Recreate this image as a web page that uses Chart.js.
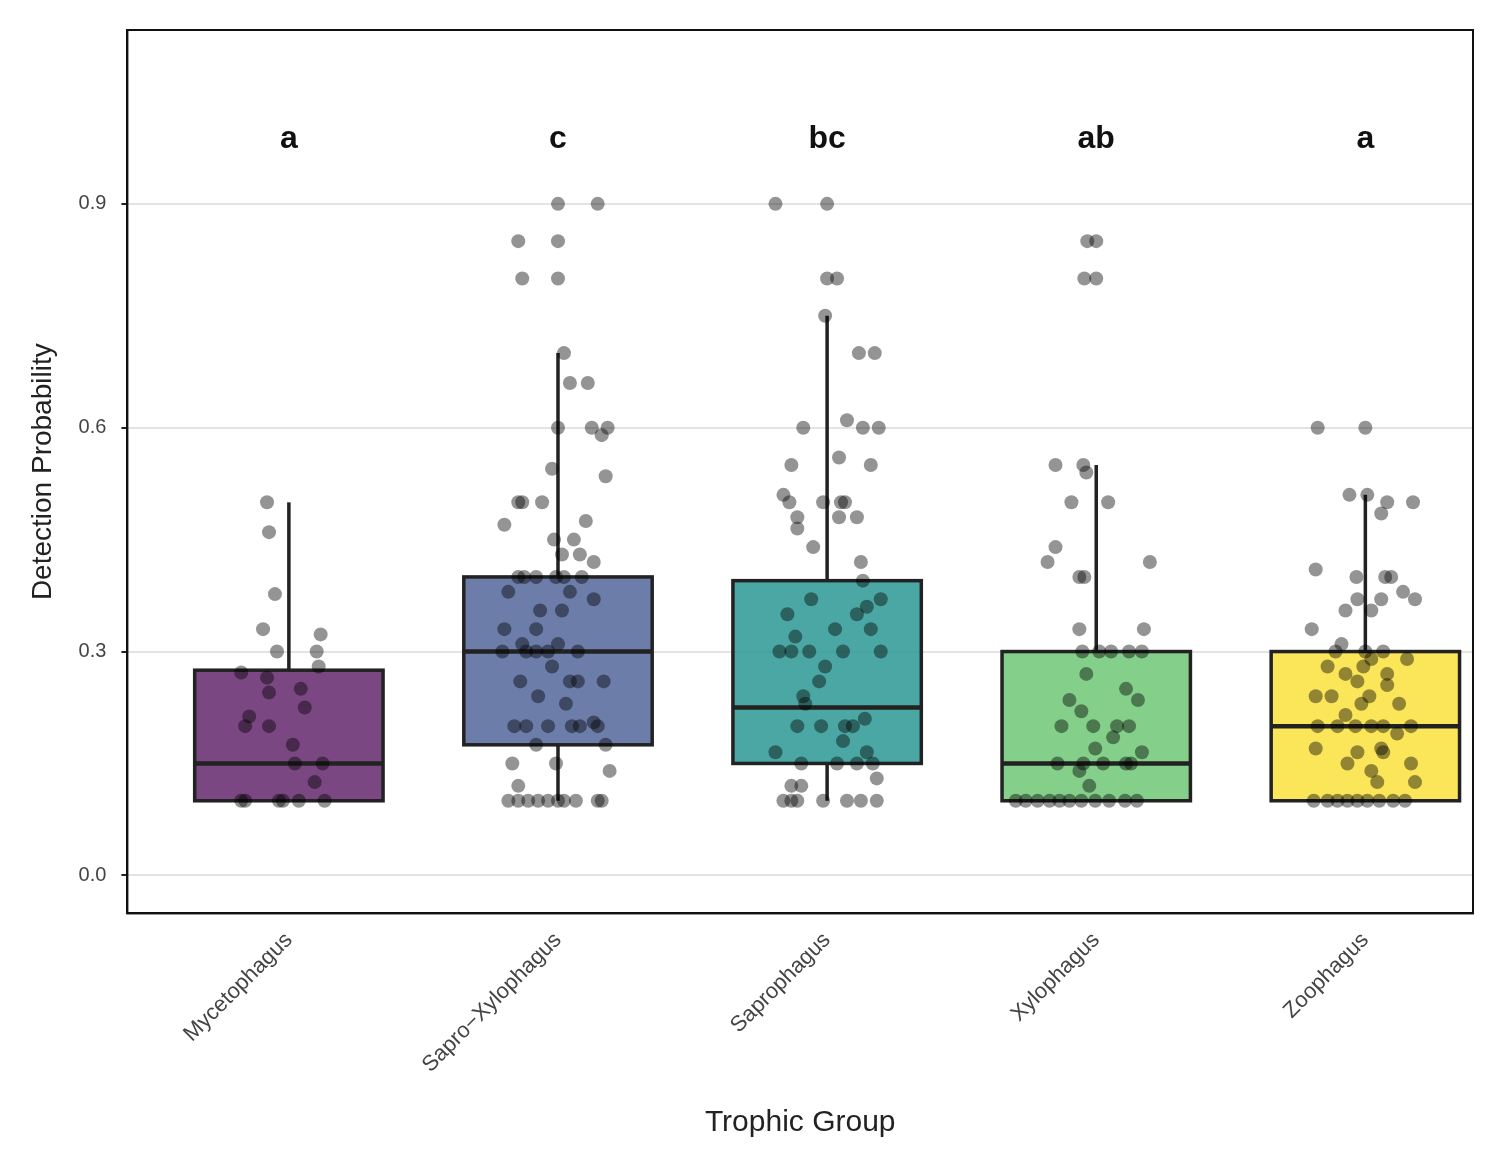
<!DOCTYPE html>
<html>
<head>
<meta charset="utf-8">
<script src="https://cdn.jsdelivr.net/npm/chart.js@4"></script>
<style>
  html, body { margin: 0; padding: 0; background: #fff; }
  #wrap { width: 1500px; height: 1165px; }
</style>
</head>
<body>
<div id="wrap"><canvas id="c"></canvas></div>
<script>
'use strict';
var groups = ['Mycetophagus', 'Sapro\u2212Xylophagus', 'Saprophagus', 'Xylophagus', 'Zoophagus'];
var letters = ['a', 'c', 'bc', 'ab', 'a'];
var boxColors = ['rgba(104,46,113,0.88)', 'rgba(82,102,154,0.85)', 'rgba(44,152,148,0.85)', 'rgba(110,200,118,0.85)', 'rgba(250,225,60,0.85)'];
var q1 = [0.10, 0.175, 0.15, 0.10, 0.10];
var medians = [0.15, 0.30, 0.225, 0.15, 0.20];
var q3 = [0.275, 0.40, 0.395, 0.30, 0.30];
var whiskLow = [0.10, 0.10, 0.10, 0.10, 0.10];
var whiskHigh = [0.50, 0.70, 0.75, 0.55, 0.51];
var yTicks = [0, 0.3, 0.6, 0.9];

// jittered points: [horizontal offset from group centre in 1/271 of a category, value]
var pts0 = [[-22,0.5],[-20,0.46],[-14,0.377],[-26,0.33],[32,0.323],[-12,0.30],[28,0.30],[-48,0.272],[-22,0.265],[12,0.25],[-20,0.245],[16,0.225],[-40,0.213],[-44,0.2],[-20,0.2],[4,0.175],[6,0.15],[34,0.15],[26,0.125],[-48,0.1],[-44,0.1],[-10,0.1],[-6,0.1],[10,0.1],[36,0.1],[30,0.28]];
var pts1 = [[0,0.9],[40,0.9],[-40,0.85],[0,0.85],[-36,0.8],[0,0.8],[6,0.7],[12,0.66],[30,0.66],[0,0.6],[34,0.6],[50,0.6],[44,0.59],[-6,0.545],[48,0.535],[-40,0.5],[-16,0.5],[-36,0.5],[-54,0.47],[28,0.475],[-4,0.45],[16,0.45],[4,0.43],[22,0.43],[36,0.42],[-40,0.4],[-34,0.4],[-22,0.4],[-2,0.4],[6,0.4],[24,0.4],[-50,0.38],[12,0.38],[36,0.37],[-18,0.355],[4,0.355],[-54,0.33],[-22,0.33],[0,0.31],[-36,0.31],[-56,0.3],[-32,0.3],[-22,0.3],[-10,0.3],[20,0.3],[-6,0.28],[-38,0.26],[12,0.26],[20,0.26],[46,0.26],[-20,0.24],[8,0.23],[-44,0.2],[-32,0.2],[-10,0.2],[14,0.2],[22,0.2],[40,0.2],[36,0.205],[-22,0.175],[48,0.175],[-46,0.15],[-2,0.15],[52,0.14],[-40,0.12],[-50,0.1],[-40,0.1],[-30,0.1],[-20,0.1],[-10,0.1],[0,0.1],[6,0.1],[18,0.1],[40,0.1],[44,0.1]];
var pts2 = [[-52,0.9],[0,0.9],[0,0.8],[10,0.8],[-2,0.75],[32,0.7],[48,0.7],[20,0.61],[-24,0.6],[36,0.6],[52,0.6],[12,0.56],[-36,0.55],[44,0.55],[-44,0.51],[-38,0.5],[-4,0.5],[14,0.5],[18,0.5],[-30,0.48],[12,0.48],[30,0.48],[-30,0.465],[-14,0.44],[34,0.42],[36,0.395],[-16,0.37],[54,0.37],[40,0.36],[-40,0.35],[30,0.35],[8,0.33],[44,0.33],[-32,0.32],[-48,0.3],[-36,0.3],[-18,0.3],[16,0.3],[54,0.3],[-2,0.28],[-8,0.26],[-24,0.24],[-22,0.23],[38,0.21],[-30,0.2],[-6,0.2],[18,0.2],[26,0.2],[16,0.18],[-52,0.165],[40,0.165],[-26,0.15],[10,0.15],[30,0.15],[46,0.15],[50,0.13],[-36,0.12],[-26,0.12],[-44,0.1],[-36,0.1],[-30,0.1],[-4,0.1],[20,0.1],[34,0.1],[50,0.1]];
var pts3 = [[-9,0.85],[0,0.85],[-12,0.8],[0,0.8],[-41,0.55],[-13,0.55],[-10,0.54],[-25,0.5],[12,0.5],[-41,0.44],[-49,0.42],[-17,0.4],[-12,0.4],[54,0.42],[-17,0.33],[48,0.33],[-14,0.3],[3,0.3],[15,0.3],[33,0.3],[46,0.3],[-10,0.27],[30,0.25],[-27,0.235],[42,0.235],[-15,0.22],[-35,0.2],[-3,0.2],[21,0.2],[33,0.2],[17,0.185],[-1,0.17],[46,0.165],[-39,0.15],[-13,0.15],[7,0.15],[30,0.15],[35,0.15],[-17,0.14],[-7,0.12],[-81,0.1],[-71,0.1],[-59,0.1],[-47,0.1],[-37,0.1],[-27,0.1],[-15,0.1],[-1,0.1],[13,0.1],[29,0.1],[41,0.1]];
var pts4 = [[-48,0.6],[0,0.6],[-16,0.51],[2,0.51],[22,0.5],[48,0.5],[16,0.485],[-50,0.41],[-9,0.4],[20,0.4],[26,0.4],[38,0.38],[-8,0.37],[16,0.37],[50,0.37],[-20,0.355],[6,0.355],[-54,0.33],[-24,0.31],[-30,0.3],[0,0.3],[18,0.3],[6,0.29],[42,0.29],[-38,0.28],[-2,0.28],[-20,0.27],[22,0.27],[-8,0.26],[22,0.255],[-50,0.24],[-34,0.24],[4,0.24],[-4,0.23],[34,0.23],[-20,0.215],[-48,0.2],[-28,0.2],[-10,0.2],[6,0.2],[18,0.2],[46,0.2],[32,0.19],[-50,0.17],[16,0.17],[-8,0.165],[18,0.165],[-18,0.15],[46,0.15],[6,0.14],[12,0.125],[50,0.125],[-52,0.1],[-38,0.1],[-28,0.1],[-18,0.1],[-8,0.1],[2,0.1],[14,0.1],[28,0.1],[40,0.1]];
var pointSets = [pts0, pts1, pts2, pts3, pts4];

var boxHalf = 0.35;

var pointData = [];
pointSets.forEach(function(set, g) {
  set.forEach(function(p) { pointData.push({x: g + p[0] / 271, y: p[1]}); });
});

var boxPlugin = {
  id: 'boxes',
  beforeDatasetsDraw: function(chart) {
    var ctx = chart.ctx, xs = chart.scales.x, ys = chart.scales.y;
    ctx.save();
    for (var g = 0; g < groups.length; g++) {
      var cx = xs.getPixelForValue(g);
      var l = xs.getPixelForValue(g - boxHalf), r = xs.getPixelForValue(g + boxHalf);
      var t = ys.getPixelForValue(q3[g]), b = ys.getPixelForValue(q1[g]);
      ctx.strokeStyle = '#222';
      ctx.lineWidth = 3.5;
      ctx.beginPath();
      ctx.moveTo(cx, ys.getPixelForValue(whiskHigh[g]));
      ctx.lineTo(cx, t);
      ctx.moveTo(cx, b);
      ctx.lineTo(cx, ys.getPixelForValue(whiskLow[g]));
      ctx.stroke();
      ctx.fillStyle = boxColors[g];
      ctx.fillRect(l, t, r - l, b - t);
      ctx.strokeRect(l, t, r - l, b - t);
      ctx.lineWidth = 4.5;
      var m = ys.getPixelForValue(medians[g]);
      ctx.beginPath();
      ctx.moveTo(l, m);
      ctx.lineTo(r, m);
      ctx.stroke();
    }
    ctx.restore();
  },
  afterDatasetsDraw: function(chart) {
    var ctx = chart.ctx, xs = chart.scales.x, ys = chart.scales.y, a = chart.chartArea;
    ctx.save();
    ctx.fillStyle = '#111';
    ctx.font = 'bold 32px "Liberation Sans", Arial, sans-serif';
    ctx.textAlign = 'center';
    ctx.textBaseline = 'middle';
    for (var g = 0; g < groups.length; g++) {
      ctx.fillText(letters[g], xs.getPixelForValue(g), ys.getPixelForValue(0.987));
    }
    ctx.strokeStyle = '#111';
    ctx.lineWidth = 2;
    ctx.strokeRect(a.left, a.top, a.right - a.left, a.bottom - a.top);
    ctx.restore();
  }
};

new Chart(document.getElementById('c'), {
  type: 'scatter',
  data: {
    datasets: [{
      data: pointData,
      backgroundColor: 'rgba(0,0,0,0.42)',
      borderWidth: 0,
      pointRadius: 7,
      pointHoverRadius: 7
    }]
  },
  options: {
    responsive: true,
    maintainAspectRatio: false,
    animation: false,
    layout: {padding: {top: 30, right: 27, left: 22, bottom: 20}},
    plugins: {legend: {display: false}, tooltip: {enabled: false}},
    scales: {
      x: {
        type: 'linear', min: -0.6, max: 4.4,
        afterBuildTicks: function(axis) { axis.ticks = groups.map(function(n, i) { return {value: i}; }); },
        ticks: {
          minRotation: 45, maxRotation: 45, color: '#444', padding: 6,
          font: {size: 22, family: '"Liberation Sans", Arial, sans-serif'},
          callback: function(v) { return groups[v]; }
        },
        grid: {display: false, drawTicks: true, tickLength: 8, tickColor: '#222', tickWidth: 2},
        border: {color: '#111', width: 2},
        title: {display: true, text: 'Trophic Group', color: '#222', padding: {top: 21, bottom: 4}, font: {size: 30, family: '"Liberation Sans", Arial, sans-serif'}}
      },
      y: {
        min: -0.051, max: 1.133,
        afterBuildTicks: function(axis) { axis.ticks = yTicks.map(function(v) { return {value: v}; }); },
        ticks: {
          color: '#444', padding: 15,
          font: {size: 20, family: '"Liberation Sans", Arial, sans-serif'},
          callback: function(v) { return v.toFixed(1); }
        },
        grid: {color: '#e3e3e3', lineWidth: 2, tickColor: '#222', tickLength: 6},
        border: {color: '#111', width: 2},
        title: {display: true, text: 'Detection Probability', color: '#222', font: {size: 28, family: '"Liberation Sans", Arial, sans-serif'}}
      }
    }
  },
  plugins: [boxPlugin]
});
</script>
</body>
</html>
